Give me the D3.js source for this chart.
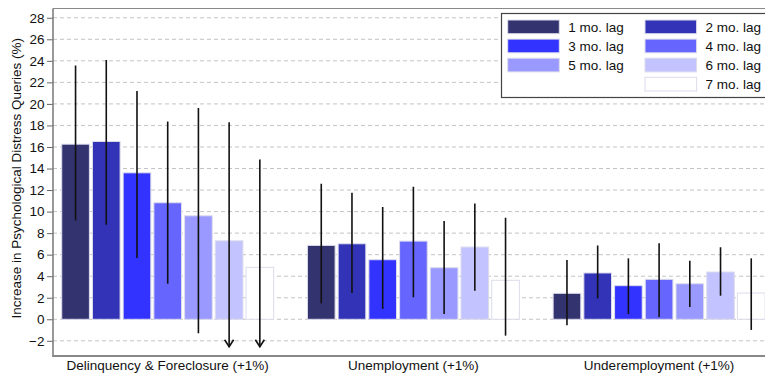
<!DOCTYPE html>
<html>
<head>
<meta charset="utf-8">
<script src="https://cdn.jsdelivr.net/npm/d3@7"></script>
<style>
  html, body { margin: 0; padding: 0; background: #fff; }
  svg { display: block; font-family: "Liberation Sans", Arial, sans-serif; }
</style>
</head>
<body>
<svg id="chart" width="765" height="377"></svg>
<script>
// Outcome categories along the x axis
const categories = ["Delinquency & Foreclosure (+1%)", "Unemployment (+1%)", "Underemployment (+1%)"];
// Lag series
const lags = ["1 mo. lag", "2 mo. lag", "3 mo. lag", "4 mo. lag", "5 mo. lag", "6 mo. lag", "7 mo. lag"];
const lagColors = ["#333370", "#3333b8", "#3333ff", "#6666ff", "#9999ff", "#c3c3ff", "#ffffff"];

// Point estimates (% increase), one array per category, indexed by lag
const delinquencyEst = [16.26, 16.51, 13.60, 10.82, 9.61, 7.29, 4.82];
const unemploymentEst = [6.86, 7.01, 5.53, 7.26, 4.79, 6.71, 3.62];
const underemploymentEst = [2.41, 4.30, 3.12, 3.71, 3.30, 4.39, 2.44];

// Confidence interval bounds
const delinquencyHi = [23.56, 24.08, 21.20, 18.37, 19.63, 18.30, 14.84];
const delinquencyLo = [9.18, 8.78, 5.69, 3.30, -1.30, -3.70, -5.20];
const unemploymentHi = [12.58, 11.74, 10.42, 12.30, 9.12, 10.76, 9.43];
const unemploymentLo = [1.48, 2.44, 0.96, 2.04, 0.49, 2.65, -1.52];
const underemploymentHi = [5.50, 6.86, 5.66, 7.05, 5.44, 6.68, 5.66];
const underemploymentLo = [-0.56, 1.95, 0.49, 0.21, 1.14, 2.19, -0.99];

// Y axis ticks
const yTicks = [-2, 0, 2, 4, 6, 8, 10, 12, 14, 16, 18, 20, 22, 24, 26, 28];
const yTitle = "Increase in Psychological Distress Queries (%)";

// Legend slots laid out in two columns (null leaves a gap)
const legendSlots = ["1 mo. lag", "2 mo. lag", "3 mo. lag", "4 mo. lag", "5 mo. lag", "6 mo. lag", null, "7 mo. lag"];

const estimates = [delinquencyEst, unemploymentEst, underemploymentEst];
const upper = [delinquencyHi, unemploymentHi, underemploymentHi];
const lower = [delinquencyLo, unemploymentLo, underemploymentLo];

const rows = [];
categories.forEach((c, i) => {
  lags.forEach((l, j) => {
    rows.push({ cat: c, lag: l, j, v: estimates[i][j], hi: upper[i][j], lo: lower[i][j] });
  });
});

const W = 765, H = 377;
const plot = { left: 53, right: 766, top: 8.5, bottom: 356 };

const svg = d3.select("#chart");

const yDomain = [-3.41, 28.86];
const y = d3.scaleLinear().domain(yDomain).range([plot.bottom, plot.top]);

// Group bands; wider than the visible frame, the frame clips them
const x = d3.scaleBand().domain(categories).range([44.85, 44.85 + 245.7 * 3]);
const xInner = d3.scaleBand().domain(lags).range([-107.5, 107.5]).paddingInner(0.1).paddingOuter(0.05);
const color = d3.scaleOrdinal().domain(lags).range(lagColors);

svg.append("defs").append("clipPath").attr("id", "plotClip")
  .append("rect")
  .attr("x", plot.left).attr("y", plot.top)
  .attr("width", plot.right - plot.left).attr("height", plot.bottom - plot.top);

// Grid lines
svg.append("g")
  .selectAll("line")
  .data(yTicks)
  .join("line")
  .attr("x1", plot.left).attr("x2", plot.right)
  .attr("y1", d => y(d)).attr("y2", d => y(d))
  .attr("stroke", "#c4c4c4")
  .attr("stroke-width", 1)
  .attr("stroke-dasharray", "4,3");

const body = svg.append("g").attr("clip-path", "url(#plotClip)");

const cx = d => x(d.cat) + x.bandwidth() / 2;

// Bars
body.append("g")
  .selectAll("rect")
  .data(rows)
  .join("rect")
  .attr("x", d => cx(d) + xInner(d.lag))
  .attr("width", xInner.bandwidth())
  .attr("y", d => y(Math.max(0, d.v)))
  .attr("height", d => Math.abs(y(d.v) - y(0)))
  .attr("fill", d => color(d.lag))
  .attr("stroke", "#dcdcec")
  .attr("stroke-width", 1);

// Error bars; lower bounds beyond the axis floor end in an arrow
const floorVal = yDomain[0];
const arrowTip = y(-2.55);
const ex = d => cx(d) + xInner(d.lag) + xInner.bandwidth() / 2;
const eg = body.append("g").attr("stroke", "#111").attr("stroke-width", 1.6).attr("fill", "none");
eg.selectAll("line")
  .data(rows)
  .join("line")
  .attr("x1", ex).attr("x2", ex)
  .attr("y1", d => y(d.hi))
  .attr("y2", d => d.lo < floorVal ? arrowTip : y(d.lo));
eg.selectAll("path")
  .data(rows.filter(d => d.lo < floorVal))
  .join("path")
  .attr("d", d => {
    const px = ex(d);
    return `M${px - 4.5},${arrowTip - 7}L${px},${arrowTip}L${px + 4.5},${arrowTip - 7}`;
  });

// Frame: top line, left axis, bottom axis
svg.append("line")
  .attr("x1", plot.left).attr("x2", W)
  .attr("y1", plot.top).attr("y2", plot.top)
  .attr("stroke", "#8a8a8a").attr("stroke-width", 1);

const yAxis = svg.append("g")
  .attr("transform", `translate(${plot.left},0)`)
  .call(d3.axisLeft(y).tickValues(yTicks).tickSize(6).tickPadding(2.5).tickFormat(d3.format("d")));
yAxis.select(".domain").remove();
yAxis.selectAll(".tick line").attr("stroke", "#666").attr("stroke-width", 1);
yAxis.selectAll(".tick text")
  .attr("fill", "#111")
  .style("font-size", "13.5px")
  .style("font-family", "'Liberation Sans', Arial, sans-serif");

svg.append("line")
  .attr("x1", plot.left).attr("x2", plot.left)
  .attr("y1", plot.top).attr("y2", plot.bottom + 1)
  .attr("stroke", "#777").attr("stroke-width", 1.5);
svg.append("line")
  .attr("x1", plot.left - 0.75).attr("x2", W)
  .attr("y1", plot.bottom).attr("y2", plot.bottom)
  .attr("stroke", "#888").attr("stroke-width", 2);

// Category labels
svg.append("g")
  .selectAll("text")
  .data(categories)
  .join("text")
  .attr("x", d => x(d) + x.bandwidth() / 2)
  .attr("y", 370)
  .attr("text-anchor", "middle")
  .attr("fill", "#111")
  .style("font-size", "13.5px")
  .text(d => d);

// Y axis title
svg.append("text")
  .attr("transform", `translate(21,${(plot.top + plot.bottom) / 2 - 4}) rotate(-90)`)
  .attr("text-anchor", "middle")
  .attr("fill", "#111")
  .style("font-size", "13.5px")
  .text(yTitle);

// Legend
const lg = svg.append("g");
lg.append("rect")
  .attr("x", 501.5).attr("y", 13.5)
  .attr("width", 280).attr("height", 84)
  .attr("fill", "#fff")
  .attr("stroke", "#444").attr("stroke-width", 1.2);
const items = legendSlots.map((name, k) => ({ name, col: k % 2, row: Math.floor(k / 2) }))
  .filter(d => d.name !== null);
const li = lg.selectAll("g.item")
  .data(items)
  .join("g")
  .attr("class", "item")
  .attr("transform", d => `translate(${507.7 + d.col * 137.3},${20 + d.row * 19.1})`);
li.append("rect")
  .attr("width", 51.6).attr("height", 13.7)
  .attr("fill", d => color(d.name))
  .attr("stroke", "#dcdcec").attr("stroke-width", 1);
li.append("text")
  .attr("x", 60.6).attr("y", 6.9)
  .attr("dy", "0.35em")
  .attr("fill", "#111")
  .style("font-size", "13.5px")
  .text(d => d.name);
</script>
</body>
</html>
